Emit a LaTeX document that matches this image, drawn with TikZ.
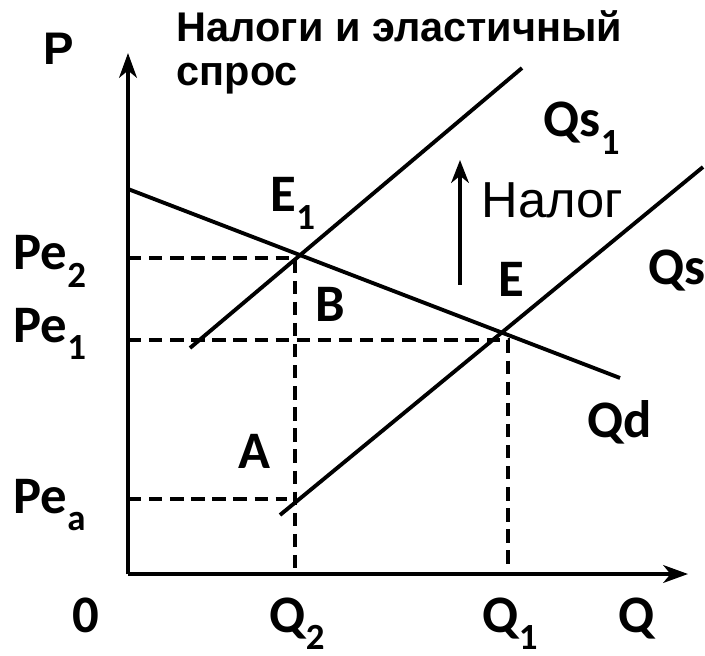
\documentclass[tikz,border=0pt]{standalone}
\usepackage{fontspec}
\setmainfont{Carlito}
\newfontfamily\arialfont{Liberation Sans}
\usetikzlibrary{positioning,arrows.meta}

\newcommand{\idx}[1]{\raisebox{-4.9pt}{\fontsize{10.5}{10.5}\selectfont #1}}

\begin{document}
\begin{tikzpicture}[
    x=0.1mm, y=0.1mm,
    axis/.style={line width=1.2pt, -{Stealth[length=7pt, width=5pt, inset=2pt]}},
    curve/.style={line width=1.1pt},
    guide/.style={line width=1.1pt, dash pattern=on 3.8pt off 2.2pt},
    lbl/.style={font=\fontsize{15}{17}\selectfont\bfseries, inner sep=0pt, anchor=base west},
    title/.style={font=\arialfont\fontsize{11.8}{13}\selectfont\bfseries, inner sep=0pt, anchor=base west}
]
\useasboundingbox (-128,-81) rectangle (577,574);

% points
\coordinate (O) at (0,0);
\coordinate (ptop) at (0,521);
\coordinate (qend) at (560,0);
\coordinate (d1) at (0,385);
\coordinate (d2) at (492,196);
\coordinate (s1) at (152,59);
\coordinate (s2) at (575,407);
\coordinate (t1) at (62,226);
\coordinate (t2) at (394,506);
\coordinate (g2) at (167,316);
\coordinate (g1) at (380,234);
\coordinate (ga) at (159,75);
\coordinate (f1) at (380,8);
\coordinate (tax0) at (332,289);
\coordinate (tax1) at (332,414);

% axes
\draw[axis] (O) -- (ptop);
\draw[axis] (O) -- (qend);

% demand and supply
\draw[curve] (d1) -- (d2);
\draw[curve] (s1) -- (s2);
\draw[curve] (t1) -- (t2);

% guide lines
\draw[guide] (O |- g2) -- (g2) -- (g2 |- O);
\draw[guide] (O |- g1) -- (g1) -- (f1);
\draw[guide] (O |- ga) -- (ga);

% tax shift
\draw[line width=1.1pt, -{Stealth[length=6.5pt, width=5pt, inset=2pt]}] (tax0) -- (tax1);
\node[inner sep=0pt, anchor=base west, font=\arialfont\fontsize{14.4}{16}\selectfont] (tax) at (353,356) {Налог};

% title
\node[title] (ttl1) at (48,532) {Налоги и эластичный};
\node[title, below=4.4mm of ttl1.base west, anchor=base west] (ttl2) {спрос};
\node[title, font=\arialfont\fontsize{13}{15}\selectfont\bfseries] (plab) at (-85,509) {P};

% labels
\node[lbl] (qs1) at (415,437) {Qs\idx{1}};
\node[lbl] (e1) at (142,362) {E\idx{1}};
\node[lbl] (e) at (370,277) {E};
\node[lbl] (qs) at (520,289) {Qs};
\node[lbl] (b) at (187,252) {B};
\node[lbl] (qd) at (459,137) {Qd};
\node[lbl] (a) at (110,106) {A};
\node[lbl] (pe2) at (-115,304) {Pe\idx{2}};
\node[lbl] (pe1) at (-115,232) {Pe\idx{1}};
\node[lbl] (pea) at (-115,61) {Pe\idx{a}};
\node[lbl] (zero) at (-56,-58) {0};
\node[lbl] (q2) at (141,-58) {Q\idx{2}};
\node[lbl] (q1) at (354,-58) {Q\idx{1}};
\node[lbl] (q) at (490,-58) {Q};

\end{tikzpicture}
\end{document}
